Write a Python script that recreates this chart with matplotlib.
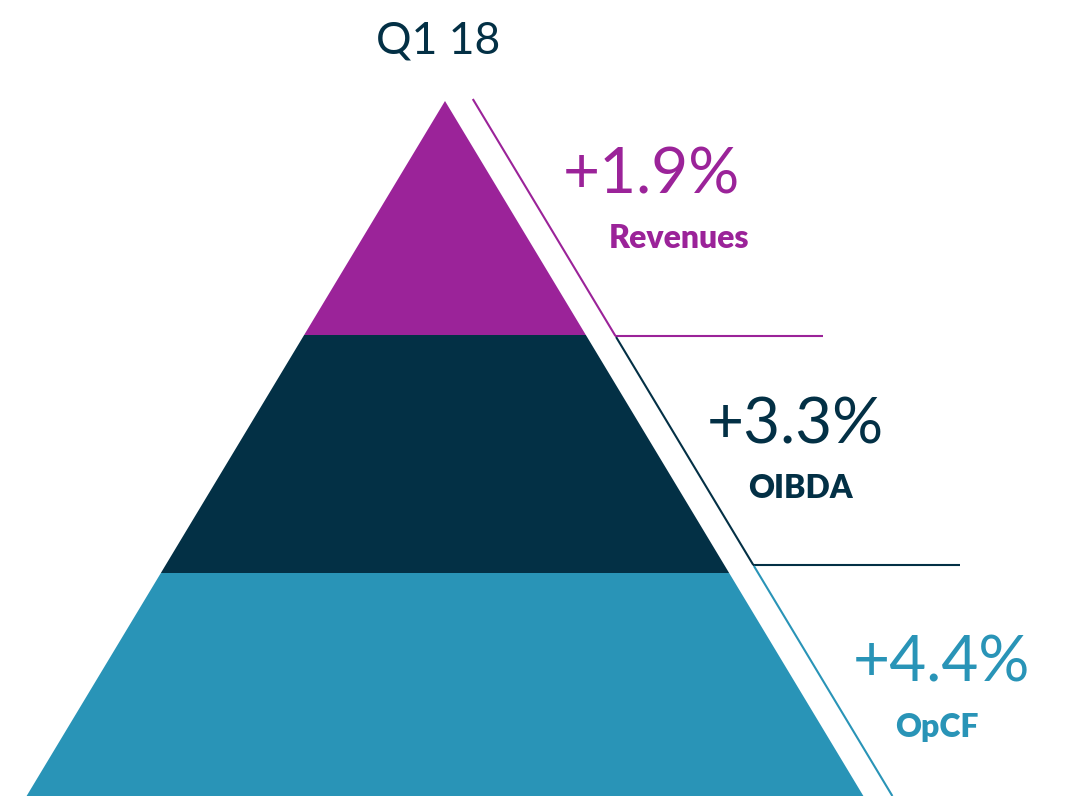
import matplotlib.pyplot as plt
import numpy as np

# tiers of the pyramid, top to bottom
metrics = ["Revenues", "OIBDA", "OpCF"]
growth = [1.9, 3.3, 4.4]
colors = ["#9b2399", "#033045", "#2994b7"]
title = "Q1 18"

# layout (pixel space of a 1083x796 canvas)
W, H = 1083, 796
apex_x, apex_y = 445, 101
slope = 0.602               # dx per dy of the sides
bounds = [apex_y, 335, 573, H]
offset = 29                 # gap between pyramid edge and guide line
guide_y = [99, 336, 565, H]  # where each guide segment breaks
line_ends = [823, 960, None]

fig = plt.figure(figsize=(W / 100, H / 100), dpi=100)
ax = fig.add_axes([0, 0, 1, 1])
ax.set_xlim(0, W)
ax.set_ylim(H, 0)
ax.axis("off")


def edge(y, side):
    return apex_x + side * slope * (y - apex_y)


for i in range(len(metrics)):
    y0, y1 = bounds[i], bounds[i + 1]
    xs = [edge(y0, -1), edge(y0, 1), edge(y1, 1), edge(y1, -1)]
    ys = [y0, y0, y1, y1]
    ax.fill(xs, ys, color=colors[i], lw=0)

    # guide line parallel to right side
    ly0 = guide_y[i] + (0 if i == 0 else 1)
    ly1 = guide_y[i + 1]
    ax.plot([edge(ly0, 1) + offset, edge(ly1, 1) + offset], [ly0, ly1],
            color=colors[i], lw=1.5, solid_capstyle="butt")
    if line_ends[i] is not None:
        ax.plot([edge(ly1, 1) + offset, line_ends[i]], [ly1, ly1],
                color=colors[i], lw=1.5, solid_capstyle="butt")

# labels
val_pos = [(651, 193), (795, 443), (941, 682)]
name_pos = [(679, 248), (800, 498), (937, 737)]
for i in range(len(metrics)):
    ax.text(val_pos[i][0], val_pos[i][1], "+%.1f%%" % growth[i], color=colors[i],
            fontsize=46, family="Lato", ha="center", va="baseline")
    ax.text(name_pos[i][0], name_pos[i][1], metrics[i], color=colors[i],
            fontsize=23, family="Lato", fontweight="heavy", ha="center", va="baseline")

ax.text(438, 53, title, color="#033045", fontsize=32, family="Lato",
        ha="center", va="baseline")

fig.savefig("out.png", dpi=100, facecolor="white")
